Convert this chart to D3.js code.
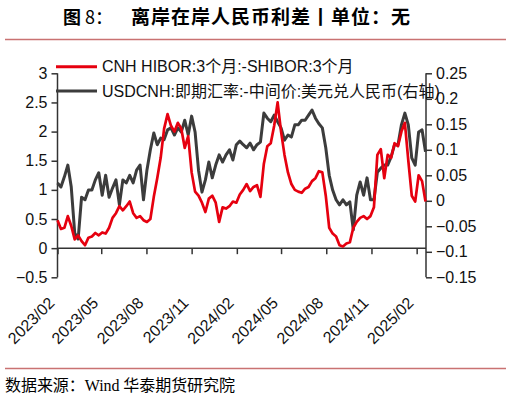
<!DOCTYPE html>
<html>
<head>
<meta charset="utf-8">
<script src="https://cdn.jsdelivr.net/npm/d3@7"></script>
<style>
  body { margin: 0; background: #fff; }
  text { font-family: "Liberation Sans", Arial, "Noto Sans CJK SC", sans-serif; }
</style>
</head>
<body>
<script>
// weekly observations, first one on 2023-02-01
var startDate = "2023-02-01";

// CNH HIBOR 3M - SHIBOR 3M (left axis)
var spread = [
  0.48, 0.33, 0.35, 0.55, 0.38, 0.15, 0.22, 0.12, 0.05, 0.18,
  0.20, 0.26, 0.22, 0.27, 0.25, 0.35, 0.52, 0.60, 0.72, 0.65,
  0.72, 0.80, 0.60, 0.52, 0.55, 0.48, 0.45, 0.50, 0.88, 1.20,
  1.55, 2.05, 2.30, 2.10, 2.00, 2.15, 2.05, 1.72, 1.92, 1.30,
  0.97, 0.90, 0.78, 0.62, 0.85, 0.90, 0.78, 0.45, 0.70, 0.68,
  0.72, 0.80, 0.78, 0.92, 1.00, 1.10, 0.98, 1.05, 1.08, 0.88,
  1.45, 1.75, 1.80, 2.10, 2.50, 2.00, 1.60, 1.30, 1.10, 1.00,
  0.97, 0.95, 1.02, 1.05, 1.15, 1.20, 1.32, 1.30, 0.90, 0.35,
  0.25, 0.20, 0.05, 0.03, 0.08, 0.10, 0.35, 0.45, 0.52, 0.55,
  0.50, 0.55, 0.70, 1.60, 1.70, 1.20, 1.60, 1.55, 1.80, 1.75,
  2.00, 2.15, 1.50, 0.90, 0.80, 1.25, 1.15, 0.80
];

// USDCNH spot - central parity (right axis)
var fxGap = [
  0.035, 0.027, 0.047, 0.070, 0.027, -0.063, -0.075, 0.007, 0.002, 0.021,
  0.021, 0.041, 0.055, 0.011, 0.050, 0.007, 0.025, 0.041, -0.008, 0.041,
  0.035, 0.050, 0.035, 0.060, 0.070, 0.002, 0.060, 0.100, 0.133, 0.110,
  0.123, 0.120, 0.139, 0.143, 0.129, 0.143, 0.135, 0.158, 0.129, 0.166,
  0.135, 0.060, 0.017, 0.041, 0.076, 0.045, 0.070, 0.090, 0.076, 0.090,
  0.100, 0.080, 0.110, 0.117, 0.110, 0.104, 0.113, 0.100, 0.110, 0.115,
  0.172, 0.162, 0.155, 0.168, 0.155, 0.143, 0.119, 0.129, 0.125, 0.149,
  0.149, 0.158, 0.158, 0.168, 0.178, 0.162, 0.151, 0.143, 0.104, 0.050,
  0.021, 0.002, -0.008, 0.002, -0.008, -0.002, -0.057, 0.011, 0.037, 0.011,
  0.045, 0.002, 0.002, 0.056, 0.064, 0.070, 0.070, 0.086, 0.110, 0.110,
  0.149, 0.172, 0.149, 0.084, 0.070, 0.135, 0.139, 0.096
];

var xTickLabels = ["2023/02", "2023/05", "2023/08", "2023/11", "2024/02",
                   "2024/05", "2024/08", "2024/11", "2025/02"];
var leftTicks = [-0.5, 0, 0.5, 1, 1.5, 2, 2.5, 3];
var rightTicks = [-0.15, -0.1, -0.05, 0, 0.05, 0.1, 0.15, 0.2, 0.25];
var legendNames = ["CNH HIBOR:3个月:-SHIBOR:3个月", "USDCNH:即期汇率:-中间价:美元兑人民币(右轴)"];

var width = 511, height = 399;
var svg = d3.select("body").append("svg")
    .attr("width", width)
    .attr("height", height);

var parse = d3.timeParse("%Y-%m-%d");
var t0 = parse(startDate);
var dates = spread.map(function(d, i) { return d3.timeDay.offset(t0, 7 * i); });
var tickDates = xTickLabels.map(function(s) { return d3.timeParse("%Y/%m")(s); });

var x = d3.scaleTime()
    .domain([t0, parse("2025-02-20")])
    .range([57.5, 426]);
var yL = d3.scaleLinear().domain([-0.5, 3]).range([277.3, 73.3]);
var yR = d3.scaleLinear().domain([-0.15, 0.25]).range([277.3, 73.3]);

// title
var title = svg.append("text")
    .attr("x", 63).attr("y", 24)
    .style("font-family", "'Noto Sans CJK SC'")
    .style("font-size", "18px");
title.append("tspan").style("font-weight", "bold").text("图 ");
title.append("tspan").text("8：");
svg.append("text")
    .attr("x", 131).attr("y", 24)
    .style("font-family", "'Noto Sans CJK SC'")
    .style("font-weight", "bold").style("font-size", "19px")
    .attr("textLength", 279)
    .text("离岸在岸人民币利差丨单位：无");

svg.append("line").attr("x1", 5).attr("x2", 506).attr("y1", 39.5).attr("y2", 39.5)
    .attr("stroke", "#c97272").attr("stroke-width", 1.5);
svg.append("line").attr("x1", 5).attr("x2", 506).attr("y1", 368.5).attr("y2", 368.5)
    .attr("stroke", "#c97272").attr("stroke-width", 1.5);

svg.append("text")
    .attr("x", 5).attr("y", 391)
    .style("font-family", "'Liberation Serif', 'Noto Sans CJK SC'")
    .style("font-size", "16px")
    .attr("textLength", 230)
    .text("数据来源：Wind 华泰期货研究院");

// axes
var axisColor = "#333";
var gL = svg.append("g").attr("transform", "translate(57.5,0)")
    .call(d3.axisLeft(yL).tickValues(leftTicks).tickSize(6).tickPadding(4)
      .tickFormat(function(d) { return d3.format("")(d); }));
var gR = svg.append("g").attr("transform", "translate(426,0)")
    .call(d3.axisRight(yR).tickValues(rightTicks).tickSize(6).tickPadding(4)
      .tickFormat(function(d) { return d3.format("")(+d.toFixed(2)); }));
var gX = svg.append("g").attr("transform", "translate(0," + yL(0) + ")")
    .call(d3.axisBottom(x).tickValues(tickDates).tickSize(6).tickFormat(""));

[gL, gR, gX].forEach(function(g) {
  g.select(".domain").attr("stroke", axisColor).attr("stroke-width", 1.5);
  g.selectAll(".tick line").attr("stroke", axisColor).attr("stroke-width", 1.5);
  g.selectAll(".tick text").attr("fill", "#111").style("font-size", "16px")
    .style("font-family", "'Liberation Sans', Arial, sans-serif");
});
gL.select(".domain").attr("d", "M0," + yL(-0.5) + "V" + yL(3));
gR.select(".domain").attr("d", "M0," + yR(-0.15) + "V" + yR(0.25));
gX.select(".domain").attr("d", "M" + x.range()[0] + ",0H" + x.range()[1]);

// rotated date labels, placed below the plot
svg.append("g").selectAll("text")
    .data(tickDates)
    .enter().append("text")
    .attr("transform", function(d, i) { return "translate(" + (x(d) - 2) + ",304) rotate(-45)"; })
    .attr("text-anchor", "end")
    .style("font-size", "16px")
    .attr("fill", "#111")
    .text(function(d, i) { return xTickLabels[i]; });

// series
var lineR = d3.line()
    .x(function(d, i) { return x(dates[i]); })
    .y(function(d) { return yR(d); });
var lineL = d3.line()
    .x(function(d, i) { return x(dates[i]); })
    .y(function(d) { return yL(d); });

svg.append("path").datum(fxGap)
    .attr("d", lineR)
    .attr("fill", "none").attr("stroke", "#3c3c3c").attr("stroke-width", 3)
    .attr("stroke-linejoin", "round");
svg.append("path").datum(spread)
    .attr("d", lineL)
    .attr("fill", "none").attr("stroke", "#e6000f").attr("stroke-width", 2.7)
    .attr("stroke-linejoin", "round");

// legend
var legColors = ["#e6000f", "#3c3c3c"];
var leg = svg.append("g").selectAll("g")
    .data(legendNames)
    .enter().append("g")
    .attr("transform", function(d, i) { return "translate(56," + (66.7 + i * 24.3) + ")"; });
leg.append("line")
    .attr("x1", 0).attr("x2", 41)
    .attr("stroke", function(d, i) { return legColors[i]; })
    .attr("stroke-width", 3);
leg.append("text")
    .attr("x", 46).attr("y", 5.5)
    .style("font-size", "16px")
    .attr("fill", "#111")
    .text(function(d) { return d; });
</script>
</body>
</html>
